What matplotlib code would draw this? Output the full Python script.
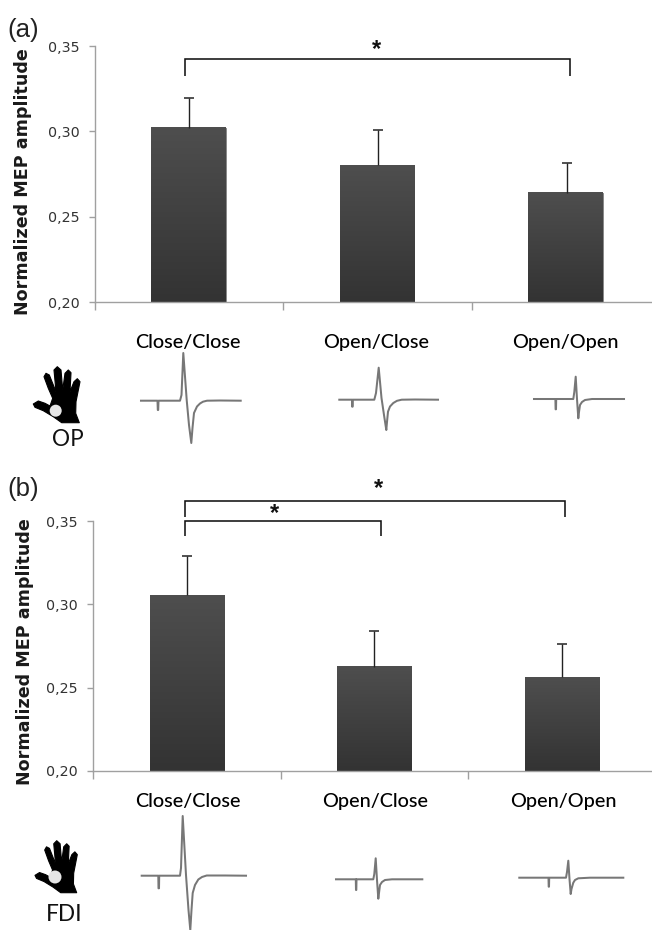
import numpy as np
import matplotlib
matplotlib.use("Agg")
import matplotlib.pyplot as plt
from matplotlib.patches import Polygon, Circle

W, H = 652, 930

categories = ["Close/Close", "Open/Close", "Open/Open"]
y_ticks = [0.20, 0.25, 0.30, 0.35]
y_tick_labels = ["0,20", "0,25", "0,30", "0,35"]

op_means = [0.302, 0.280, 0.264]
op_err_tops = [0.3195, 0.3010, 0.2814]
fdi_means = [0.3056, 0.2626, 0.2564]
fdi_err_tops = [0.3288, 0.2842, 0.2762]

# MEP traces (pixel positions)
op_close_close_x = [141, 157.5, 157.8, 158.2, 158.5, 180, 181.5, 183.3, 186.7, 189, 191.3, 192.5, 194, 197, 200, 203, 207, 220, 240.7]
op_close_close_y = [400.7, 400.7, 410, 410, 400.7, 400.7, 395, 353, 400, 425, 443, 428, 413, 406.5, 403.5, 401.7, 400.7, 400.5, 400.7]
op_open_close_x = [339.3, 352, 352.2, 352.6, 352.8, 374.3, 376, 378.7, 381.5, 384, 386.3, 387, 388, 390, 393.3, 397, 401.7, 415, 438]
op_open_close_y = [399.7, 399.7, 406.7, 406.7, 399.7, 399.7, 393, 367.7, 398, 415, 430, 422, 411.7, 406.5, 403, 400.8, 399.7, 399.5, 399.7]
op_open_open_x = [534, 555.4, 555.6, 556, 556.2, 573.3, 574.3, 575.7, 577, 578.3, 579, 580, 582, 585, 592, 624]
op_open_open_y = [399, 399, 409.3, 409.3, 399, 399, 392, 376.7, 399, 418.3, 412, 405, 402, 400, 399, 399]
fdi_close_close_x = [141.7, 158.3, 158.5, 159, 159.2, 180, 181, 182.7, 186, 188.5, 190.3, 191.5, 192.7, 195, 198.3, 202, 206.7, 225, 246]
fdi_close_close_y = [875.7, 875.7, 888.3, 888.3, 875.7, 875.7, 868, 816, 875, 910, 930, 910, 893, 885, 879.5, 877, 875.5, 875.5, 875.7]
fdi_open_close_x = [336, 355.8, 356, 356.3, 356.5, 373.3, 374.3, 375.7, 377, 378.3, 379, 380, 382, 385, 392, 422.3]
fdi_open_close_y = [879.3, 879.3, 890, 890, 879.3, 879.3, 874, 858.3, 880, 898.7, 893, 885, 882, 880, 879.3, 879.3]
fdi_open_open_x = [519.3, 548.5, 548.7, 549, 549.2, 566, 567, 568.3, 569.5, 570.7, 571.5, 573.3, 575, 578.3, 590, 623.3]
fdi_open_open_y = [877.7, 877.7, 886.7, 886.7, 877.7, 877.7, 872, 860.7, 879, 894, 889, 882.7, 880, 878.3, 877.7, 877.7]

# Hand silhouette outline, in pixels of the upper (OP) hand
hand_x = [44, 46, 49.3, 56, 54, 57.3, 61, 62.7, 65, 68.3, 71, 70, 74, 77.3, 80, 76, 75.7, 79.3, 61.7, 53.3, 43.3, 35, 33.3, 38.3, 45, 50, 52.7, 48.3]
hand_y = [376.7, 373.3, 375, 391.7, 370, 366.7, 370, 390, 373.3, 370, 372.7, 391.7, 381.7, 378.7, 381.7, 401.7, 413.3, 422.7, 422.7, 416.7, 410.7, 407.3, 404, 401, 403.3, 406, 398.3, 388.3]


def px_axes(fig, left, top, right, bottom):
    return fig.add_axes([left / W, 1 - bottom / H, (right - left) / W, (bottom - top) / H])


def draw_panel(ax, means, err_tops, shift):
    centers = np.arange(len(means)) + 0.5
    ax.set_xlim(0, 3)
    ax.set_ylim(0.20, 0.35)
    ax.patch.set_alpha(0)
    grad = np.linspace(0, 1, 64)[:, None]
    cmap = matplotlib.colors.LinearSegmentedColormap.from_list("g", ["#4e4e4e", "#333333"])
    bars = ax.bar(centers + shift, means, width=0.397, bottom=0, facecolor="#444444",
                  edgecolor="#8a8a8a", linewidth=0.7, zorder=2)
    for bar, m in zip(bars, means):
        x0 = bar.get_x()
        ax.imshow(grad, extent=(x0, x0 + bar.get_width(), 0.20, m), origin="upper",
                  cmap=cmap, vmin=0, vmax=1, aspect="auto", zorder=2.5)
    ax.set_xlim(0, 3)
    ax.set_ylim(0.20, 0.35)
    yerr = [np.zeros(len(means)), np.array(err_tops) - np.array(means)]
    _, caps, _ = ax.errorbar(centers, means, yerr=yerr, fmt="none", ecolor="#222222",
                             elinewidth=1.0, capsize=3.6, capthick=1.1, zorder=3)
    caps[0].set_visible(False)
    for s in ("top", "right"):
        ax.spines[s].set_visible(False)
    for s in ("left", "bottom"):
        ax.spines[s].set_color("#a0a0a0")
        ax.spines[s].set_linewidth(1.0)
    ax.set_xticks([0, 1, 2, 3])
    ax.set_xticklabels([])
    ax.tick_params(axis="x", length=5.8, width=1.0, color="#a0a0a0")
    ax.set_yticks(y_ticks)
    ax.set_yticklabels(y_tick_labels, fontsize=10.3, color="#333333", family="DejaVu Sans")
    ax.tick_params(axis="y", length=4.3, width=1.0, color="#a0a0a0", pad=6.5)


cat_font = "Lato"
cat_size = 14.3

fig = plt.figure(figsize=(W / 100, H / 100), dpi=100, facecolor="white")

ax_a = px_axes(fig, 94.5, 46, 661, 302)
ax_b = px_axes(fig, 93, 521, 655.5, 771)
draw_panel(ax_a, op_means, op_err_tops, -0.004)
draw_panel(ax_b, fdi_means, fdi_err_tops, 0.0)

ov = fig.add_axes([0, 0, 1, 1], zorder=5)
ov.set_xlim(0, W)
ov.set_ylim(H, 0)
ov.axis("off")

# panel letters and axis titles
ov.text(7, 37, "(a)", fontsize=18.5, family="Liberation Sans", color="#222222", va="baseline")
ov.text(7, 496, "(b)", fontsize=18.5, family="Liberation Sans", color="#222222", va="baseline")
for x, y in ((23, 181.5), (25, 651.5)):
    ov.text(x, y, "Normalized MEP amplitude", rotation=90, ha="center", va="center",
            fontsize=12.6, fontweight="bold", family="DejaVu Sans", color="#1a1a1a")

# category labels
cat_x_a = [187.5, 376, 565]
cat_x_b = [187.5, 375, 563]
for xs, base in ((cat_x_a, 348), (cat_x_b, 807)):
    for x, c in zip(xs, categories):
        ov.text(x, base, c, ha="center", va="baseline", fontsize=cat_size, fontweight="medium",
                family=cat_font, color="#000000")

# muscle labels
ov.text(67.5, 446, "OP", ha="center", va="baseline", fontsize=cat_size + 2, family=cat_font, color="#111111")
ov.text(64.5, 921, "FDI", ha="center", va="baseline", fontsize=cat_size + 2, family=cat_font, color="#111111")

# significance brackets: (x left, x right, y, left drop end, right drop end)
brackets = [(185, 569.7, 59.3, 76, 76), (185, 565, 500.7, 517, 517), (185, 381.3, 521, 535.7, 535.7)]
for x0, x1, y, d0, d1 in brackets:
    ov.plot([x0, x0, x1, x1], [d0, y, y, d1], color="#111111", lw=1.15,
            solid_joinstyle="miter", solid_capstyle="butt")
for x, y in ((376, 56), (275, 520), (379, 495)):
    ov.text(x, y, "*", ha="center", va="baseline", fontsize=17, fontweight="bold",
            family="Liberation Sans", color="#111111")

# MEP traces
traces = [(op_close_close_x, op_close_close_y), (op_open_close_x, op_open_close_y),
          (op_open_open_x, op_open_open_y), (fdi_close_close_x, fdi_close_close_y),
          (fdi_open_close_x, fdi_open_close_y), (fdi_open_open_x, fdi_open_open_y)]
for tx, ty in traces:
    ov.plot(tx, ty, color="#777777", lw=1.45, solid_joinstyle="round")

# hands
hx = np.array(hand_x, float)
hy = np.array(hand_y, float)
ov.add_patch(Polygon(np.c_[hx, hy], closed=True, fc="black", ec="black", lw=0.8, joinstyle="round"))
ov.add_patch(Circle((55.7, 410.7), 6, fc="#e6e6e6", ec="none"))
sx = 42.3 / 46.7
sy = 52 / 56
hx2 = 35 + (hx - 33.3) * sx
hy2 = 840.7 + (hy - 366.7) * sy
ov.add_patch(Polygon(np.c_[hx2, hy2], closed=True, fc="black", ec="black", lw=0.8, joinstyle="round"))
ov.add_patch(Circle((55, 877), 6.5, fc="#e6e6e6", ec="none"))

fig.savefig("out.png", dpi=100, facecolor="white")
